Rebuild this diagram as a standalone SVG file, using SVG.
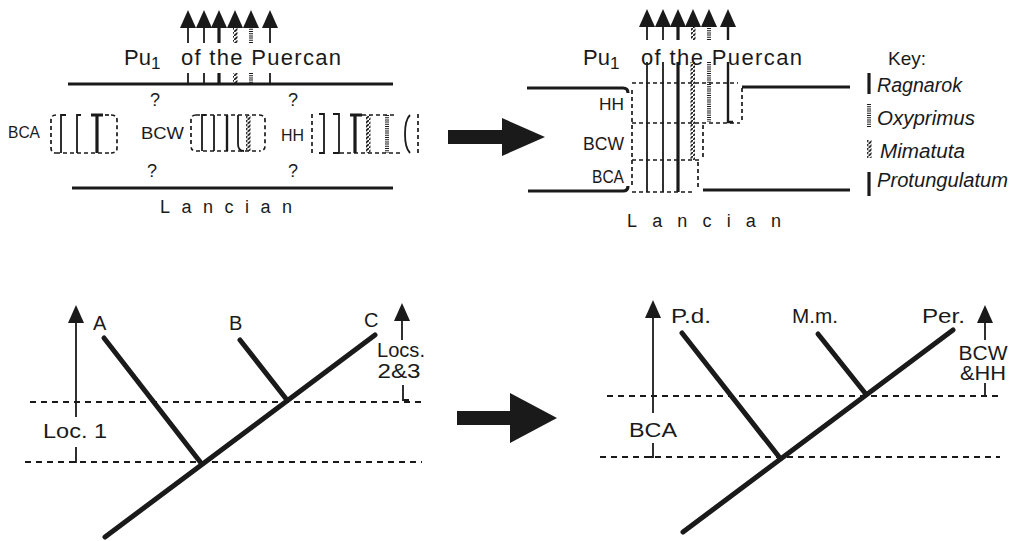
<svg xmlns="http://www.w3.org/2000/svg" xmlns:xlink="http://www.w3.org/1999/xlink" width="1015" height="541" viewBox="0 0 1015 541">
<style>
text{font-family:"Liberation Sans",Arial,sans-serif;fill:#1a1a1a}
.thick{stroke:#1a1a1a;stroke-width:3.2;fill:none}
.thin{stroke:#1a1a1a;stroke-width:1.8;fill:none}
.med{stroke:#1a1a1a;stroke-width:2.4;fill:none}
.dot{stroke:#1a1a1a;stroke-width:4;stroke-dasharray:1 1.2;fill:none}
.dash{stroke:#1a1a1a;stroke-width:1.7;stroke-dasharray:4 3;fill:none}
.hdash{stroke:#1a1a1a;stroke-width:1.9;stroke-dasharray:6 5;fill:none}
.tree{stroke:#1a1a1a;stroke-width:5;stroke-linecap:round;fill:none}
.bar{stroke:#1a1a1a;stroke-width:3.2;fill:none}
.it{font-style:italic;font-size:20px}
.ah{fill:#1a1a1a}
</style>
<defs>
<pattern id="hatch" patternUnits="userSpaceOnUse" width="4.5" height="4">
<path d="M-0.5,4.3 L5,-0.3" stroke="#1a1a1a" stroke-width="1.8"/>
</pattern>
<path id="ah" d="M-8,1 L0,-17 L8,1 Z"/>
</defs>
<rect width="1015" height="541" fill="#ffffff"/>

<!-- ===== Top-left panel ===== -->
<g id="top-left">
<text x="124" y="65" font-size="22">Pu<tspan font-size="17" dy="4">1</tspan></text>
<text x="181" y="65" font-size="22" textLength="160" lengthAdjust="spacing">of the Puercan</text>
<line class="thick" x1="68" y1="84" x2="393" y2="84"/>
<line class="thick" x1="72" y1="188" x2="393" y2="188"/>
<text x="155" y="106" font-size="18" text-anchor="middle">?</text>
<text x="293" y="106" font-size="18" text-anchor="middle">?</text>
<text x="152" y="177" font-size="18" text-anchor="middle">?</text>
<text x="293" y="177" font-size="18" text-anchor="middle">?</text>
<text x="160" y="213" font-size="18" textLength="132" lengthAdjust="spacing">Lancian</text>
<line class="thin" x1="188" y1="73" x2="188" y2="84"/>
<line class="thin" x1="204" y1="73" x2="204" y2="84"/>
<line class="thick" x1="219" y1="73" x2="219" y2="84"/>
<rect x="233" y="73" width="4.5" height="11" fill="url(#hatch)"/>
<line class="dot" x1="251" y1="73" x2="251" y2="84"/>
<line class="thin" x1="270" y1="73" x2="270" y2="84"/>
</g>

<g id="block-BCA">
<text x="8" y="138" font-size="16" textLength="32" lengthAdjust="spacingAndGlyphs">BCA</text>
<path class="dash" d="M56,115 Q51,115 51,120 L51,148 Q51,153 56,153"/>
<path class="dash" d="M111,115 Q117,115 117,120 L117,148 Q117,153 111,153"/>
<path class="thin" d="M66,115 L61,115 L61,153"/>
<path class="thin" d="M81,115 L77,115 L77,153"/>
<path class="thick" d="M91,115 L103,115 M97,115 L97,153"/>
<line class="dash" x1="105" y1="115" x2="111" y2="115"/>
<line class="dash" x1="56" y1="153" x2="111" y2="153"/>
</g>

<g id="block-BCW">
<text x="141" y="139" font-size="16" textLength="43" lengthAdjust="spacingAndGlyphs">BCW</text>
<path class="dash" d="M196,115 Q191,115 191,120 L191,146 Q191,151 196,151"/>
<path class="dash" d="M259,115 Q265,115 265,120 L265,146 Q265,151 259,151"/>
<line class="dash" x1="196" y1="115" x2="259" y2="115"/>
<line class="dash" x1="196" y1="151" x2="259" y2="151"/>
<path class="thin" d="M206,115 L202,115 L202,151"/>
<line class="thin" x1="214" y1="115" x2="214" y2="151"/>
<line class="med" x1="227" y1="115" x2="227" y2="151"/>
<path class="thin" d="M238,115 L238,144 Q238,151 244,151"/>
<rect x="246" y="115" width="4.5" height="36" fill="url(#hatch)"/>
</g>

<g id="block-HH">
<text x="281" y="141" font-size="16" textLength="23" lengthAdjust="spacingAndGlyphs">HH</text>
<line class="dash" x1="312" y1="114" x2="312" y2="153"/>
<line class="dash" x1="418" y1="114" x2="418" y2="153"/>
<path class="thin" d="M319,114 L324,114 L324,153 L319,153"/>
<path class="thin" d="M333,114 L339,114 L339,153 L333,153"/>
<path class="thick" d="M350,115 L362,115 M355,115 L355,153"/>
<line class="dash" x1="362" y1="115" x2="395" y2="115"/>
<rect x="366" y="115" width="4.5" height="38" fill="url(#hatch)"/>
<line class="dot" x1="387" y1="115" x2="387" y2="153"/>
<path class="thin" d="M410,115 Q405,120 405,134 Q405,148 410,153"/>
<line class="dash" x1="340" y1="153" x2="400" y2="153"/>
</g>

<!-- ===== Top-right panel ===== -->
<g id="top-right">
<text x="583" y="65" font-size="22">Pu<tspan font-size="17" dy="4">1</tspan></text>
<text x="641" y="65" font-size="22" textLength="161" lengthAdjust="spacing">of the Puercan</text>
<path class="thick" d="M527,88 L623,88 Q628,88 628,93"/>
<path class="thick" d="M528,191 L623,191 Q628,191 628,186"/>
<path class="thick" d="M742,87 L850,87"/>
<path class="thick" d="M703,190 L850,190"/>
<line class="dash" x1="632" y1="90" x2="632" y2="188"/>
<line class="dash" x1="632" y1="83" x2="738" y2="83"/>
<line class="dash" x1="632" y1="123" x2="740" y2="123"/>
<line class="dash" x1="632" y1="160" x2="700" y2="160"/>
<line class="dash" x1="632" y1="192" x2="692" y2="192"/>
<line class="dash" x1="742" y1="88" x2="742" y2="123"/>
<line class="dash" x1="703" y1="125" x2="703" y2="160"/>
<line class="dash" x1="698" y1="162" x2="698" y2="190"/>
<line class="thin" x1="647" y1="62" x2="647" y2="192"/>
<line class="thin" x1="663" y1="62" x2="663" y2="192"/>
<line class="thick" x1="678" y1="62" x2="678" y2="192"/>
<rect x="690.5" y="62" width="4.5" height="98" fill="url(#hatch)"/>
<line class="dot" x1="709" y1="62" x2="709" y2="122"/>
<path class="med" d="M728,62 L728,122 L733,122"/>
<text x="624" y="110" font-size="17" text-anchor="end" textLength="25" lengthAdjust="spacingAndGlyphs">HH</text>
<text x="624" y="150" font-size="18" text-anchor="end" textLength="41" lengthAdjust="spacingAndGlyphs">BCW</text>
<text x="624" y="183" font-size="18" text-anchor="end" textLength="32" lengthAdjust="spacingAndGlyphs">BCA</text>
<text x="627" y="227" font-size="18" textLength="154" lengthAdjust="spacing">Lancian</text>
</g>

<g id="key">
<text x="888" y="65" font-size="19">Key:</text>
<line class="bar" x1="869" y1="73" x2="869" y2="94"/>
<text class="it" x="877" y="92" textLength="85" lengthAdjust="spacingAndGlyphs">Ragnarok</text>
<line class="dot" x1="869" y1="104" x2="869" y2="128"/>
<text class="it" x="877" y="125" textLength="98" lengthAdjust="spacingAndGlyphs">Oxyprimus</text>
<rect x="867" y="140" width="4.5" height="18" fill="url(#hatch)"/>
<text class="it" x="880" y="158" textLength="85" lengthAdjust="spacingAndGlyphs">Mimatuta</text>
<line class="thick" x1="869" y1="172" x2="869" y2="196"/>
<text class="it" x="877" y="187" textLength="131" lengthAdjust="spacingAndGlyphs">Protungulatum</text>
</g>

<!-- ===== Bottom-left tree ===== -->
<g id="tree-left">
<line class="hdash" x1="30" y1="402" x2="425" y2="402"/>
<line class="hdash" x1="25" y1="462" x2="422" y2="462"/>
<line class="tree" x1="105" y1="537" x2="375" y2="335"/>
<line class="tree" x1="201" y1="463" x2="104" y2="338"/>
<line class="tree" x1="287" y1="400" x2="240" y2="340"/>
<text x="93" y="330" font-size="20">A</text>
<text x="229" y="330" font-size="20">B</text>
<text x="364" y="327" font-size="20">C</text>
<text x="43" y="438" font-size="20" textLength="64" lengthAdjust="spacingAndGlyphs">Loc. 1</text>
<path class="thin" d="M76,447 L76,462 L71,462"/>
<text x="401" y="357" font-size="20" text-anchor="middle" textLength="48" lengthAdjust="spacingAndGlyphs">Locs.</text>
<text x="399" y="378" font-size="20" text-anchor="middle" textLength="43" lengthAdjust="spacingAndGlyphs">2&amp;3</text>
<path class="thin" d="M403,385 L403,400 L409,400"/>
</g>

<!-- ===== Bottom-right tree ===== -->
<g id="tree-right">
<line class="hdash" x1="607" y1="396" x2="1003" y2="396"/>
<line class="hdash" x1="600" y1="457" x2="1000" y2="457"/>
<line class="tree" x1="683" y1="532" x2="953" y2="330"/>
<line class="tree" x1="780" y1="458" x2="682" y2="333"/>
<line class="tree" x1="865" y1="393" x2="818" y2="334"/>
<text x="671" y="323" font-size="20" textLength="40" lengthAdjust="spacingAndGlyphs">P.d.</text>
<text x="792" y="323" font-size="20" textLength="46" lengthAdjust="spacingAndGlyphs">M.m.</text>
<text x="922" y="323" font-size="20" textLength="43" lengthAdjust="spacingAndGlyphs">Per.</text>
<text x="653" y="437" font-size="20" text-anchor="middle" textLength="48" lengthAdjust="spacingAndGlyphs">BCA</text>
<path class="thin" d="M653,443 L653,457 L648,457"/>
<text x="983" y="360" font-size="20" text-anchor="middle" textLength="49" lengthAdjust="spacingAndGlyphs">BCW</text>
<text x="983" y="380" font-size="20" text-anchor="middle" textLength="46" lengthAdjust="spacingAndGlyphs">&amp;HH</text>
<path class="thin" d="M985,383 L985,396"/>
</g>

<!-- ===== Connectors (arrows) ===== -->
<g id="connectors">
<line class="thin" x1="188" y1="43" x2="188" y2="26"/>
<line class="thin" x1="204" y1="43" x2="204" y2="26"/>
<line class="thick" x1="219" y1="43" x2="219" y2="26"/>
<rect x="233" y="26" width="4.5" height="17" fill="url(#hatch)"/>
<line class="dot" x1="251" y1="43" x2="251" y2="26"/>
<line class="thin" x1="270" y1="43" x2="270" y2="26"/>
<use xlink:href="#ah" href="#ah" class="ah" x="188" y="27"/>
<use xlink:href="#ah" href="#ah" class="ah" x="204" y="27"/>
<use xlink:href="#ah" href="#ah" class="ah" x="219" y="27"/>
<use xlink:href="#ah" href="#ah" class="ah" x="235" y="27"/>
<use xlink:href="#ah" href="#ah" class="ah" x="251" y="27"/>
<use xlink:href="#ah" href="#ah" class="ah" x="270" y="27"/>

<line class="thin" x1="647" y1="40" x2="647" y2="26"/>
<line class="thin" x1="663" y1="40" x2="663" y2="26"/>
<line class="thick" x1="678" y1="40" x2="678" y2="26"/>
<rect x="691" y="26" width="4.5" height="14" fill="url(#hatch)"/>
<line class="dot" x1="709" y1="40" x2="709" y2="26"/>
<line class="med" x1="728" y1="40" x2="728" y2="26"/>
<use xlink:href="#ah" href="#ah" class="ah" x="647" y="26"/>
<use xlink:href="#ah" href="#ah" class="ah" x="663" y="26"/>
<use xlink:href="#ah" href="#ah" class="ah" x="678" y="26"/>
<use xlink:href="#ah" href="#ah" class="ah" x="693" y="26"/>
<use xlink:href="#ah" href="#ah" class="ah" x="709" y="26"/>
<use xlink:href="#ah" href="#ah" class="ah" x="728" y="26"/>

<path d="M448,130 L502,130 L502,118 L545,137 L502,156 L502,144 L448,144 Z" fill="#1a1a1a"/>
<path d="M457,411 L510,411 L510,393 L557,418 L510,443 L510,425 L457,425 Z" fill="#1a1a1a"/>

<line class="thin" x1="76" y1="417" x2="76" y2="320"/>
<use xlink:href="#ah" href="#ah" class="ah" x="76" y="322"/>
<line class="thin" x1="402" y1="340" x2="402" y2="318"/>
<use xlink:href="#ah" href="#ah" class="ah" x="402" y="320"/>
<line class="thin" x1="653" y1="413" x2="653" y2="315"/>
<use xlink:href="#ah" href="#ah" class="ah" x="653" y="317"/>
<line class="thin" x1="985" y1="340" x2="985" y2="320"/>
<use xlink:href="#ah" href="#ah" class="ah" x="985" y="322"/>
</g>
</svg>
